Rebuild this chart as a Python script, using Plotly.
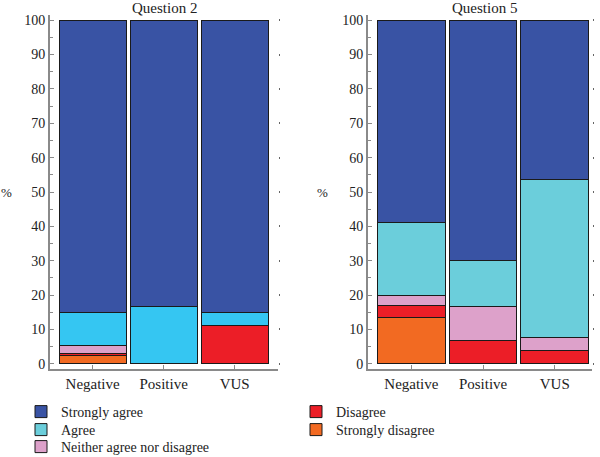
import plotly.graph_objects as go

categories = ["Negative", "Positive", "VUS"]
series_names = ["Strongly disagree", "Disagree", "Neither agree nor disagree", "Agree", "Strongly agree"]

q2_strongly_disagree = [2.4, 0, 0]
q2_disagree = [0.6, 0, 11.1]
q2_neither = [2.3, 0, 0]
q2_agree = [9.5, 16.7, 3.7]
q2_strongly_agree = [85.2, 83.3, 85.2]

q5_strongly_disagree = [13.6, 0, 0]
q5_disagree = [3.4, 6.7, 3.8]
q5_neither = [2.8, 10.0, 3.8]
q5_agree = [21.3, 13.3, 46.1]
q5_strongly_agree = [58.9, 70.0, 46.3]

y_ticks = list(range(0, 101, 10))

colors = {
    "Strongly agree": "#3953A4",
    "Agree": "#6BCEDB",
    "Neither agree nor disagree": "#DDA1CA",
    "Disagree": "#EC1E27",
    "Strongly disagree": "#F26A22",
}
q2_agree_color = "#35C6F2"

FONT = "Liberation Serif"
W, H = 600, 457
AX = "#8a8a8a"

q2 = [q2_strongly_disagree, q2_disagree, q2_neither, q2_agree, q2_strongly_agree]
q5 = [q5_strongly_disagree, q5_disagree, q5_neither, q5_agree, q5_strongly_agree]

# one legend box per entry so the rows can sit as tightly as in the reference
legend_of = {
    "Strongly agree": "legend", "Agree": "legend2", "Neither agree nor disagree": "legend3",
    "Disagree": "legend4", "Strongly disagree": "legend5",
}

fig = go.Figure()
for name, vals in zip(series_names, q2):
    c = q2_agree_color if name == "Agree" else colors[name]
    fig.add_trace(go.Bar(x=categories, y=vals, name=name, marker=dict(color=c, line=dict(color="#1a1a1a", width=1)),
                         xaxis="x", yaxis="y", showlegend=False, legendgroup=name))
for name, vals in zip(series_names, q5):
    fig.add_trace(go.Bar(x=categories, y=vals, name=name,
                         marker=dict(color=colors[name], line=dict(color="#1a1a1a", width=1)),
                         xaxis="x2", yaxis="y2", showlegend=True, legendgroup=name,
                         legend=legend_of[name]))

ydom = [1 - 369 / H, 1 - 15 / H]
yrange = [-1.5, 101.5]

def yaxis_common(anchor):
    return dict(range=yrange, domain=ydom, anchor=anchor, tickvals=y_ticks,
                ticks="inside", ticklen=4, tickwidth=1, tickcolor=AX,
                showline=True, linecolor=AX, linewidth=2, showgrid=False, zeroline=False,
                minor=dict(dtick=5, ticks="inside", ticklen=3, tickcolor=AX),
                tickfont=dict(family=FONT, size=14, color="#222"))

def xaxis_common(dom, rng, anchor):
    return dict(domain=dom, range=rng, anchor=anchor, ticks="inside", ticklen=4, tickcolor=AX,
                showline=True, linecolor=AX, linewidth=2, showgrid=False,
                tickfont=dict(family=FONT, size=15, color="#222"))

def dots(anchor, overlay):
    return dict(range=yrange, domain=ydom, anchor=anchor, overlaying=overlay, side="right",
                tickvals=y_ticks, ticks="outside", ticklen=1, tickwidth=1.5, tickcolor="#666",
                showticklabels=False, showline=False, showgrid=False, zeroline=False)

legend_style = dict(yanchor="middle", xanchor="left", orientation="v", xref="container", yref="container",
                    font=dict(family=FONT, size=14, color="#222"), tracegroupgap=0,
                    bgcolor="rgba(0,0,0,0)", itemwidth=30)

row_y = [412, 430, 447]
col_x = [21, 296]

fig.update_layout(
    width=W, height=H, margin=dict(l=0, r=0, t=0, b=0, autoexpand=False),
    paper_bgcolor="white", plot_bgcolor="white",
    barmode="stack", bargap=0.056,
    xaxis=xaxis_common([50 / W, 278 / W], [-0.6, 2.61], "y"),
    yaxis=yaxis_common("x"),
    xaxis2=xaxis_common([368 / W, 592 / W], [-0.605, 2.52], "y2"),
    yaxis2=yaxis_common("x2"),
    yaxis3=dots("x", "y"),
    yaxis4=dots("x2", "y2"),
    legend=dict(x=col_x[0] / W, y=1 - row_y[0] / H, **legend_style),
    legend2=dict(x=col_x[0] / W, y=1 - row_y[1] / H, **legend_style),
    legend3=dict(x=col_x[0] / W, y=1 - row_y[2] / H, **legend_style),
    legend4=dict(x=col_x[1] / W, y=1 - row_y[0] / H, **legend_style),
    legend5=dict(x=col_x[1] / W, y=1 - row_y[1] / H, **legend_style),
    annotations=[
        dict(text="Question 2", x=164 / W, y=1 - 8 / H, xref="paper", yref="paper", showarrow=False,
             font=dict(family=FONT, size=15, color="#222"), xanchor="center", yanchor="middle"),
        dict(text="Question 5", x=484 / W, y=1 - 8 / H, xref="paper", yref="paper", showarrow=False,
             font=dict(family=FONT, size=15, color="#222"), xanchor="center", yanchor="middle"),
        dict(text="%", x=6 / W, y=1 - 192 / H, xref="paper", yref="paper", showarrow=False,
             font=dict(family=FONT, size=13, color="#222"), xanchor="center", yanchor="middle"),
        dict(text="%", x=322 / W, y=1 - 192 / H, xref="paper", yref="paper", showarrow=False,
             font=dict(family=FONT, size=13, color="#222"), xanchor="center", yanchor="middle"),
    ],
)
fig.add_trace(go.Scatter(x=[categories[0]], y=[None], xaxis="x", yaxis="y3", showlegend=False, hoverinfo="skip"))
fig.add_trace(go.Scatter(x=[categories[0]], y=[None], xaxis="x2", yaxis="y4", showlegend=False, hoverinfo="skip"))

fig.write_html("out.html")
